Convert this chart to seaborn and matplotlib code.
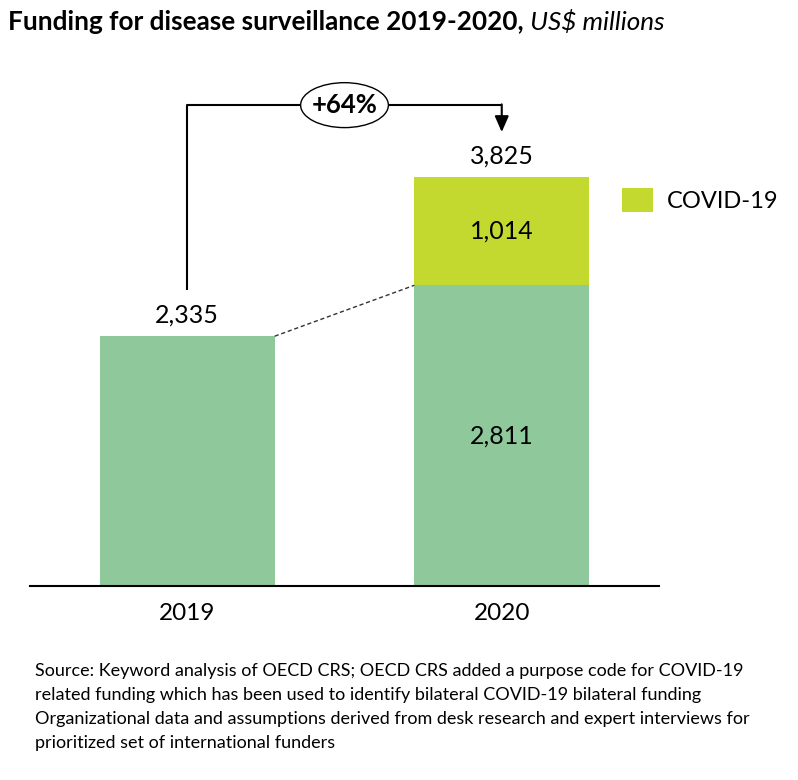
import matplotlib
matplotlib.use("Agg")
import matplotlib.pyplot as plt
import seaborn as sns
import pandas as pd
from matplotlib.patches import Ellipse, Patch

years = ["2019", "2020"]
base_values = [2335, 2811]
covid_values = [0, 1014]
totals = [2335, 3825]
growth_label = "+64%"
legend_label = "COVID-19"
title_bold = "Funding for disease surveillance 2019-2020,"
title_italic = " US$ millions"
source_text = ("Source: Keyword analysis of OECD CRS; OECD CRS added a purpose code for COVID-19\n"
               "related funding which has been used to identify bilateral COVID-19 bilateral funding\n"
               "Organizational data and assumptions derived from desk research and expert interviews for\n"
               "prioritized set of international funders")

GREEN = "#8FC89B"
LIME = "#C3D92F"
FONT = "Lato"

sns.set_theme(style="white")
plt.rcParams["font.family"] = [FONT, "DejaVu Sans"]
plt.rcParams["text.color"] = "black"
plt.rcParams["xtick.color"] = "black"

df = pd.DataFrame({"year": years, "base": base_values, "covid": covid_values, "total": totals})

fig = plt.figure(figsize=(7.98, 7.8), dpi=100)
W, H = 798, 780
ax = fig.add_axes([30 / W, (H - 586) / H, (659 - 30) / W, (586 - 80) / H])

bw = 0.556
sns.barplot(data=df, x="year", y="base", color=GREEN, width=bw, saturation=1, ax=ax, edgecolor="none")
sns.barplot(data=df, x="year", y="covid", color=LIME, width=bw, saturation=1, ax=ax,
            bottom=df["base"], edgecolor="none")

ax.set_xlim(-0.5, 1.5)
ax.set_ylim(0, 4730)
for s in ["top", "right", "left"]:
    ax.spines[s].set_visible(False)
ax.spines["bottom"].set_color("black")
ax.spines["bottom"].set_linewidth(1.5)
ax.set_yticks([])
ax.set_xlabel("")
ax.set_ylabel("")
ax.tick_params(axis="x", length=0, pad=12, labelsize=17.5, labelcolor="black")

# value labels
for i, row in df.iterrows():
    ax.annotate(f"{row['total']:,}", (i, row["total"]), xytext=(0, 7), textcoords="offset points",
                ha="center", va="bottom", fontsize=18, color="black")
    if row["covid"] > 0:
        ax.text(i, row["base"] + row["covid"] / 2, f"{row['covid']:,}", ha="center", va="center",
                fontsize=18, color="black")
        ax.text(i, row["base"] / 2, f"{row['base']:,}", ha="center", va="center",
                fontsize=18, color="black")

# dashed connector
ax.plot([0 + bw / 2, 1 - bw / 2], [df["total"][0], df["base"][1]], ls=(0, (3, 2)), color="#333333", lw=1)

# growth bracket
ytop = 4495
ax.plot([0, 0, 1], [2766, ytop, ytop], color="black", lw=1.5, solid_capstyle="butt")
ax.annotate("", xy=(1, 4243), xytext=(1, ytop + 7),
            arrowprops=dict(arrowstyle="-|>,head_length=0.8,head_width=0.35", color="black", lw=1.5,
                            shrinkA=0, shrinkB=0))
ell = Ellipse((0.5, ytop), 0.279, 420, facecolor="white", edgecolor="black", lw=1, zorder=5)
ax.add_patch(ell)
ax.text(0.5, ytop, growth_label, ha="center", va="center", fontsize=18.5, fontweight="bold", zorder=6)

# legend
leg = ax.legend(handles=[Patch(facecolor=LIME, edgecolor="none", label=legend_label)],
                loc="center left", bbox_to_anchor=(613 / W, (H - 200) / H),
                bbox_transform=fig.transFigure, frameon=False, fontsize=17,
                handlelength=1.3, handleheight=1.2, handletextpad=0.6, borderaxespad=0)

# title
t1 = fig.text(8 / W, 1 - 22 / H, title_bold, fontsize=18.8, fontweight="bold", va="center", ha="left")
fig.canvas.draw()
bb = t1.get_window_extent()
fig.text(bb.x1 / W, 1 - 22 / H, title_italic, fontsize=18.8, style="italic", va="center", ha="left")

# source
fig.text(35 / W, 1 - 663 / H, source_text, fontsize=13, va="top", ha="left", linespacing=1.62)

fig.savefig("out.png", dpi=100)
